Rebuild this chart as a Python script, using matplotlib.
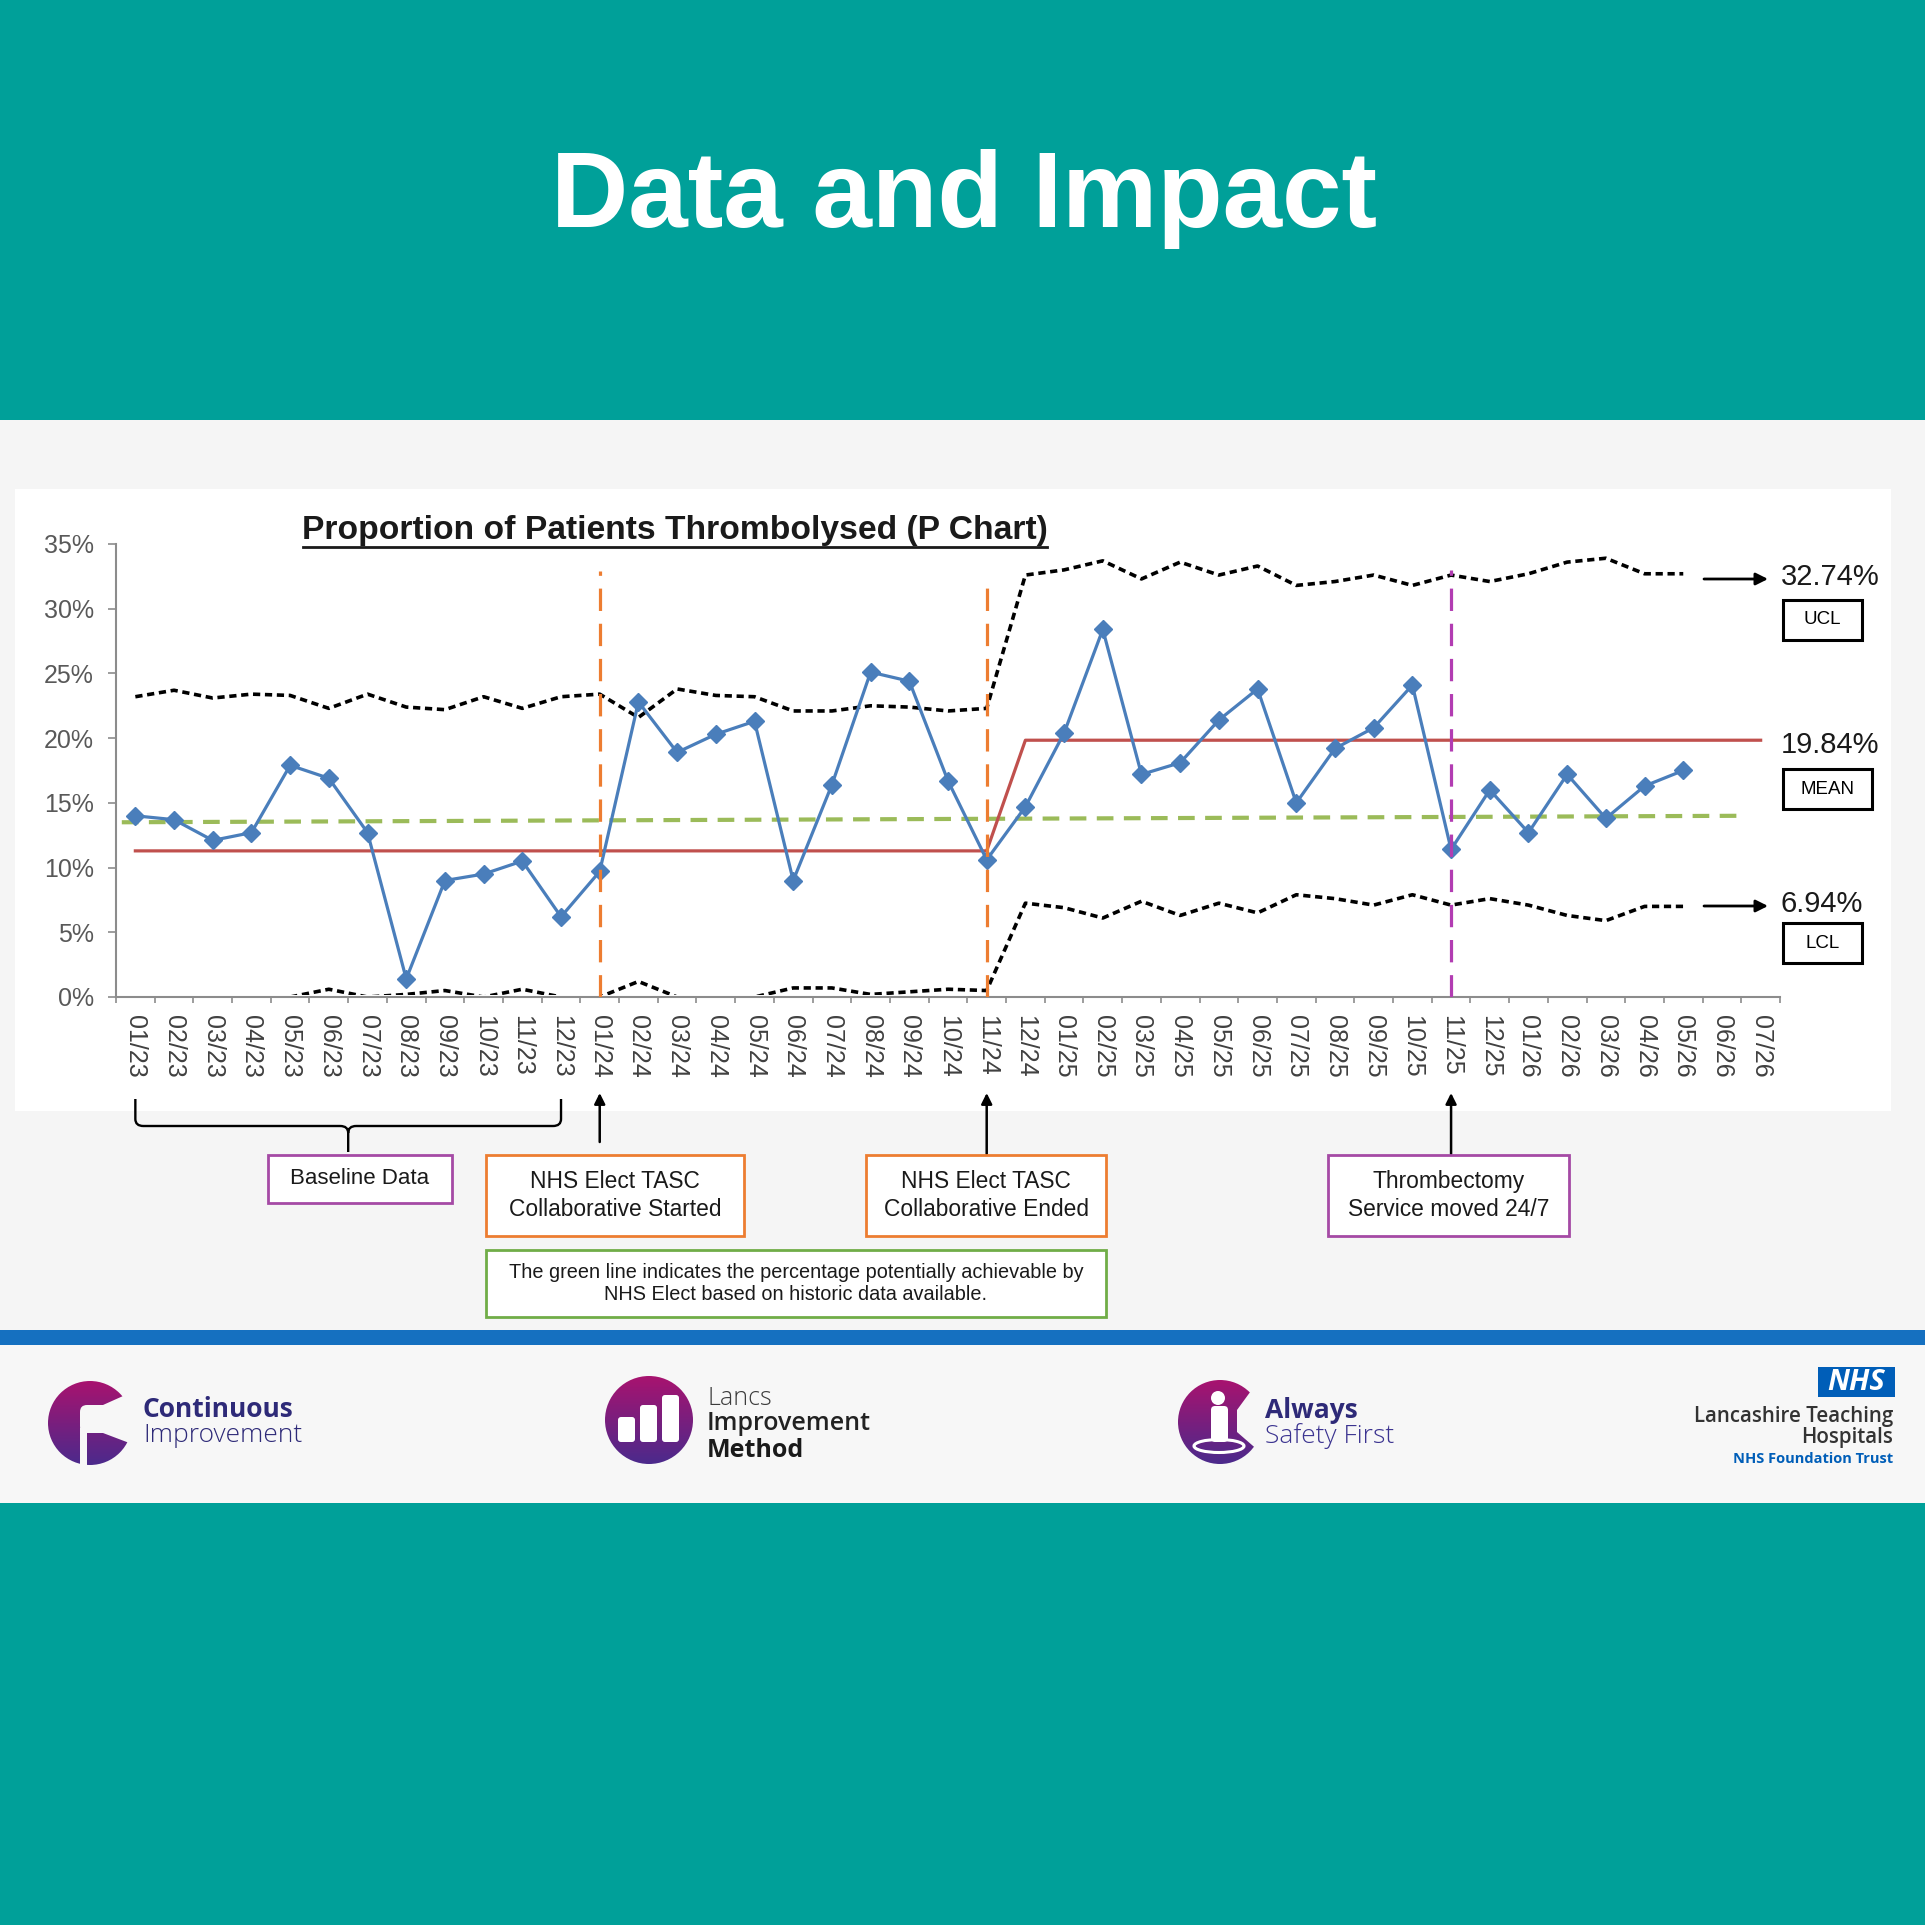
import numpy as np
import matplotlib
matplotlib.use("Agg")
import matplotlib.pyplot as plt
from matplotlib.patches import Rectangle, Circle, Ellipse, FancyBboxPatch, PathPatch, Polygon
from matplotlib.path import Path
from matplotlib.colors import LinearSegmentedColormap

W = 1925  # figure is W x W px at dpi 100, bg axes works in these px (y down)

plt.rcParams['font.family'] = ['Liberation Sans', 'DejaVu Sans']

# ---- values ----
months = ['01/23', '02/23', '03/23', '04/23', '05/23', '06/23', '07/23', '08/23', '09/23', '10/23', '11/23', '12/23',
          '01/24', '02/24', '03/24', '04/24', '05/24', '06/24', '07/24', '08/24', '09/24', '10/24', '11/24', '12/24',
          '01/25', '02/25', '03/25', '04/25', '05/25', '06/25', '07/25', '08/25', '09/25', '10/25', '11/25', '12/25',
          '01/26', '02/26', '03/26', '04/26', '05/26', '06/26', '07/26']
nan = np.nan
prop = [14.0, 13.7, 12.1, 12.7, 17.9, 16.9, 12.7, 1.4, 9.0, 9.5, 10.5, 6.2,
        9.7, 22.8, 18.9, 20.3, 21.3, 9.0, 16.4, 25.1, 24.4, 16.7, 10.6, 14.7,
        20.4, 28.4, 17.2, 18.1, 21.4, 23.8, 15.0, 19.2, 20.8, 24.1, 11.4, 16.0,
        12.7, 17.2, 13.8, 16.3, 17.5, nan, nan]
ucl = [23.2, 23.7, 23.1, 23.4, 23.3, 22.3, 23.4, 22.4, 22.2, 23.2, 22.3, 23.2,
       23.4, 21.6, 23.8, 23.3, 23.2, 22.1, 22.1, 22.5, 22.4, 22.1, 22.3, 32.6,
       33.0, 33.7, 32.3, 33.6, 32.6, 33.3, 31.8, 32.1, 32.6, 31.8, 32.6, 32.1,
       32.7, 33.6, 33.9, 32.7, 32.7, nan, nan]
lcl = [0, 0, 0, 0, 0, 0.6, 0, 0.2, 0.5, 0, 0.6, 0,
       0, 1.2, 0, 0, 0, 0.7, 0.7, 0.2, 0.4, 0.6, 0.5, 7.25,
       6.9, 6.1, 7.4, 6.3, 7.25, 6.5, 7.9, 7.6, 7.1, 7.9, 7.1, 7.6,
       7.1, 6.3, 5.9, 7.0, 7.0, nan, nan]
mean_line = [11.29] * 23 + [19.84] * 20
target_x = [-0.35, 41.4]
target = [13.5, 14.0]
event_months = ['01/24', '11/24', '11/25']
event_top = [32.9, 32.3, 33.0]
event_colors = ['#ED7D31', '#ED7D31', '#B23CB2']
ucl_label, mean_label, lcl_label = '32.74%', '19.84%', '6.94%'

TEAL = '#00A099'
GREY = '#F5F5F5'

fig = plt.figure(figsize=(W / 100, W / 100), dpi=100)

# background / layout axes in pixel coords
bg = fig.add_axes([0, 0, 1, 1], zorder=0)
bg.set_xlim(0, W)
bg.set_ylim(W, 0)
bg.axis('off')

bg.add_patch(Rectangle((0, 0), W, 420, fc=TEAL, ec='none', zorder=0))
bg.add_patch(Rectangle((0, 420), W, 910, fc=GREY, ec='none', zorder=0))
bg.add_patch(Rectangle((15, 489), 1876, 622, fc='white', ec='none', zorder=0))
bg.add_patch(Rectangle((0, 1330), W, 15, fc='#1570C0', ec='none', zorder=0))
bg.add_patch(Rectangle((0, 1345), W, 158, fc='#F7F7F7', ec='none', zorder=0))
bg.add_patch(Rectangle((0, 1503), W, W - 1503, fc=TEAL, ec='none', zorder=0))

bg.text(964, 227, 'Data and Impact', fontsize=77, fontweight='bold', color='white',
        ha='center', va='baseline')

# chart title with underline
bg.text(675, 539, 'Proportion of Patients Thrombolysed (P Chart)', fontsize=24.2,
        fontweight='bold', color='#1a1a1a', ha='center', va='baseline')
bg.plot([303, 1047], [547, 547], color='#1a1a1a', lw=2)

# ---- the P chart ----
ax = fig.add_axes([116 / W, 1 - 997 / W, 1664 / W, 453 / W], zorder=2)
ax.patch.set_alpha(0)
x = np.arange(len(months))

ax.plot(x, ucl, color='black', lw=2.6, dashes=(2, 1.3), zorder=3)
lcl_ln, = ax.plot(x, lcl, color='black', lw=2.6, dashes=(2, 1.3), zorder=3)
lcl_ln.set_clip_path(Rectangle((-0.5, 0.16), 43, 40, transform=ax.transData))
ax.plot(target_x, target, color='#9BBB59', lw=3, dashes=(4, 2.5), zorder=2)
ax.plot(x, mean_line, color='#C0504D', lw=2.3, zorder=4)
ax.plot(x, prop, color='#4A7EBB', lw=2.3, marker='D', ms=9, mfc='#4A7EBB',
        mec='#4A7EBB', zorder=5)
for m, top, c in zip(event_months, event_top, event_colors):
    i = months.index(m)
    ax.plot([i, i], [0, top], color=c, lw=2.3, dashes=(7, 4), zorder=6)

ax.set_xlim(-0.5, 42.5)
ax.set_ylim(0, 35)
ax.set_yticks(np.arange(0, 36, 5))
ax.set_yticklabels([f'{v}%' for v in range(0, 36, 5)])
ax.set_xticks(np.arange(-0.5, 43, 1))
ax.set_xticklabels([])
ax.set_xticks(x, months, minor=True)
ax.tick_params(axis='x', which='major', length=4.5, width=1.2, color='#8C8C8C')
ax.tick_params(axis='x', which='minor', length=0, pad=13, labelsize=18,
               labelcolor='#404040', labelrotation=-90)
ax.tick_params(axis='y', length=6, width=1.2, color='#8C8C8C', pad=10,
               labelsize=18, labelcolor='#595959')
for s in ['top', 'right']:
    ax.spines[s].set_visible(False)
for s in ['left', 'bottom']:
    ax.spines[s].set_color('#8C8C8C')
    ax.spines[s].set_linewidth(1.5)

# right-hand limit labels
arr = dict(arrowstyle='-|>', color='black', lw=2, mutation_scale=18, shrinkA=0, shrinkB=0)
for y, lab in [(579, ucl_label), (906, lcl_label)]:
    bg.annotate('', xy=(1768, y), xytext=(1704, y), arrowprops=arr)
    bg.text(1781, y - 2, lab, fontsize=21, ha='left', va='center', color='#1a1a1a')
bg.text(1781, 745, mean_label, fontsize=21, ha='left', va='center', color='#1a1a1a')
for (x0, y0, w, lab) in [(1783, 600, 79, 'UCL'), (1783, 769, 89, 'MEAN'), (1783, 923, 79, 'LCL')]:
    bg.add_patch(Rectangle((x0, y0), w, 40, fc='white', ec='black', lw=2.2, zorder=3))
    bg.text(x0 + w / 2, y0 + 20, lab, fontsize=13.5, ha='center', va='center', zorder=4)


def cat_px(i):
    disp = ax.transData.transform((i, 0))
    return bg.transData.inverted().transform(disp)[0]


# brace under the baseline months
x0, x1 = cat_px(0), cat_px(11)
xc = (x0 + x1) / 2
verts = [(x0, 1099), (x0, 1119), (x0, 1126), (x0 + 8, 1126), (xc - 8, 1126), (xc, 1126), (xc, 1133), (xc, 1152),
         (xc, 1133), (xc, 1126), (xc + 8, 1126), (x1 - 8, 1126), (x1, 1126), (x1, 1119), (x1, 1099)]
codes = [Path.MOVETO, Path.LINETO, Path.CURVE3, Path.CURVE3, Path.LINETO, Path.CURVE3, Path.CURVE3, Path.LINETO,
         Path.MOVETO, Path.CURVE3, Path.CURVE3, Path.LINETO, Path.CURVE3, Path.CURVE3, Path.LINETO]
bg.add_patch(PathPatch(Path(verts, codes), fc='none', ec='black', lw=1.7, zorder=3))

# event arrows
arr2 = dict(arrowstyle='-|>', color='black', lw=1.8, mutation_scale=16, shrinkA=0, shrinkB=0)
for m, ystart in zip(event_months, [1142, 1154, 1154]):
    xp = cat_px(months.index(m))
    bg.annotate('', xy=(xp, 1093), xytext=(xp, ystart), arrowprops=arr2)


def note_box(x0, y0, x1, y1, text, ec, fs, ls=1.3):
    bg.add_patch(Rectangle((x0, y0), x1 - x0, y1 - y0, fc='white', ec=ec, lw=2, zorder=3))
    bg.text((x0 + x1) / 2, (y0 + y1) / 2, text, ha='center', va='center', fontsize=fs,
            color='#1a1a1a', linespacing=ls, zorder=4)


note_box(268, 1155, 452, 1203, 'Baseline Data', '#A54AA5', 16)
note_box(486, 1155, 744, 1236, 'NHS Elect TASC\nCollaborative Started', '#ED7D31', 16.4)
note_box(866, 1155, 1106, 1236, 'NHS Elect TASC\nCollaborative Ended', '#ED7D31', 16.4)
note_box(1328, 1155, 1569, 1236, 'Thrombectomy\nService moved 24/7', '#A54AA5', 16.4)
note_box(486, 1250, 1106, 1317,
         'The green line indicates the percentage potentially achievable by\nNHS Elect based on historic data available.',
         '#70AD47', 14.3, ls=1.2)

# ---- footer logos ----
grad = np.linspace(0, 1, 256).reshape(-1, 1)
cmap = LinearSegmentedColormap.from_list('logo', ['#A8136F', '#4B2A8C'])
BAND = '#F7F7F7'


def grad_disc(cx, cy, r):
    circ = Circle((cx, cy), r, fc='none', ec='none')
    bg.add_patch(circ)
    im = bg.imshow(grad, cmap=cmap, extent=(cx - r, cx + r, cy + r, cy - r),
                   aspect='auto', origin='upper', zorder=1)
    im.set_clip_path(circ)


LOGO = ['Open Sans', 'DejaVu Sans']
INDIGO = '#2E2A78'

# Continuous Improvement: C with a keyhole cut
grad_disc(90, 1423, 42)
bg.add_patch(FancyBboxPatch((80, 1405), 30, 28, boxstyle='round,pad=0,rounding_size=7',
                            fc=BAND, ec='none', zorder=2))
bg.add_patch(Polygon([(100, 1405), (103, 1405), (132, 1392), (140, 1392), (140, 1447), (132, 1444),
                      (103, 1433), (100, 1433)], closed=True, fc=BAND, ec='none', zorder=2))
bg.add_patch(Rectangle((80, 1428), 7, 40, fc=BAND, ec='none', zorder=2))
bg.text(143, 1417, 'Continuous', family=LOGO, fontweight='bold', fontsize=19, color=INDIGO, va='baseline')
bg.text(143, 1442, 'Improvement', family=LOGO, fontweight='light', fontsize=19, color=INDIGO, va='baseline')

# Lancs Improvement Method
grad_disc(649, 1420, 44)
for bx, by in [(618, 1417), (640, 1405), (662, 1395)]:
    bg.add_patch(FancyBboxPatch((bx, by), 17, 1442 - by, boxstyle='round,pad=0,rounding_size=3',
                                fc='white', ec='none', zorder=2))
bg.text(707, 1405, 'Lancs', family=LOGO, fontweight='light', fontsize=18, color='#3C3C3C', va='baseline')
bg.text(707, 1430, 'Improvement', family=LOGO, fontweight='semibold', fontsize=18, color='#222222', va='baseline')
bg.text(707, 1457, 'Method', family=LOGO, fontweight='bold', fontsize=18, color='#1a1a1a', va='baseline')

# Always Safety First
grad_disc(1220, 1422, 42)
bg.add_patch(Polygon([(1237, 1410), (1256, 1384), (1275, 1384), (1275, 1462), (1260, 1452), (1237, 1432)],
                     closed=True, fc=BAND, ec='none', zorder=2))
bg.add_patch(Circle((1218, 1398), 7, fc='white', ec='none', zorder=3))
bg.add_patch(FancyBboxPatch((1211, 1406), 17, 36, boxstyle='round,pad=0,rounding_size=4',
                            fc='white', ec='none', zorder=3))
bg.add_patch(Ellipse((1219, 1446), 50, 13, fc='none', ec='white', lw=2.2, zorder=3))
bg.text(1265, 1418, 'Always', family=LOGO, fontweight='bold', fontsize=19, color=INDIGO, va='baseline')
bg.text(1265, 1443, 'Safety First', family=LOGO, fontweight='light', fontsize=19, color='#3B3390', va='baseline')

# NHS trust mark
bg.add_patch(Rectangle((1818, 1367), 77, 30, fc='#005EB8', ec='none', zorder=2))
bg.text(1856.5, 1383, 'NHS', family=LOGO, fontweight='bold', fontstyle='italic', fontsize=21,
        color='white', ha='center', va='center', zorder=3)
bg.text(1893, 1422, 'Lancashire Teaching', family=LOGO, fontweight='semibold', fontsize=14.8,
        color='#333333', ha='right', va='baseline')
bg.text(1893, 1443, 'Hospitals', family=LOGO, fontweight='semibold', fontsize=14.8,
        color='#333333', ha='right', va='baseline')
bg.text(1893, 1463, 'NHS Foundation Trust', family=LOGO, fontweight='bold', fontsize=10.5,
        color='#005EB8', ha='right', va='baseline')

bg.set_xlim(0, W)
bg.set_ylim(W, 0)

fig.savefig('out.png', dpi=100)
